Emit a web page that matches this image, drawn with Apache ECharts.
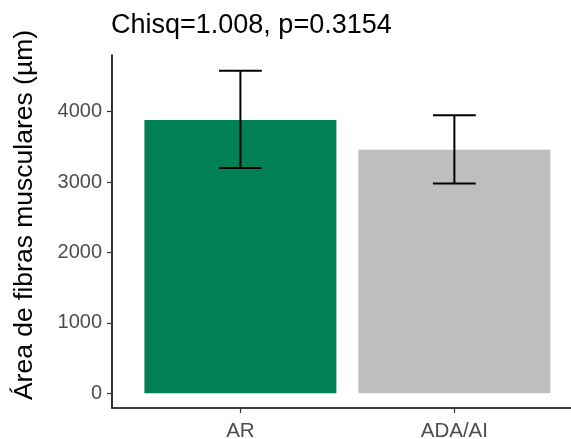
<!DOCTYPE html>
<html>
<head>
<meta charset="utf-8">
<script src="https://cdn.jsdelivr.net/npm/echarts@6/dist/echarts.min.js"></script>
<style>html,body{margin:0;padding:0;background:#fff;}#c{width:571px;height:439px;}</style>
</head>
<body>
<div id="c"></div>
<script>
// ---- data ----
var categories = ['AR', 'ADA/AI'];
var means = [3880, 3460];
var lower = [3200, 2980];
var upper = [4580, 3950];
var yTicks = [0, 1000, 2000, 3000, 4000];
var titleText = 'Chisq=1.008, p=0.3154';
var yTitle = 'Área de fibras musculares (µm)';

var FONT = 'Liberation Sans, Arial, sans-serif';
var colors = ['#008055', '#BEBEBE'];
var xPos = categories.map(function (c, i) { return i + 1; });

var chart = echarts.init(document.getElementById('c'), null, { renderer: 'canvas' });
chart.setOption({
  animation: false,
  backgroundColor: '#ffffff',
  title: {
    text: titleText, left: 111, top: 12, padding: 0,
    textStyle: { fontFamily: FONT, fontSize: 27, fontWeight: 'normal', color: '#000' }
  },
  graphic: [{
    type: 'text', x: 25, y: 215, rotation: Math.PI / 2,
    style: {
      text: yTitle, fontFamily: FONT, fontSize: 26.5, fill: '#000',
      textAlign: 'center', textVerticalAlign: 'middle'
    }
  }],
  grid: { left: 112, right: 0, top: 55, bottom: 31, containLabel: false, outerBoundsMode: 'none' },
  xAxis: {
    type: 'value', min: 0.4, max: 2.545,
    axisLine: { show: true, onZero: false, lineStyle: { color: '#000', width: 1.6 } },
    axisTick: { show: true, customValues: xPos, length: 5, lineStyle: { color: '#333', width: 1.2 } },
    axisLabel: {
      customValues: xPos, margin: 13,
      fontFamily: FONT, fontSize: 20.5, color: '#4D4D4D',
      formatter: function (v) { return categories[Math.round(v) - 1]; }
    },
    splitLine: { show: false }
  },
  yAxis: {
    type: 'value', min: -210, max: 4805,
    axisLine: { show: true, onZero: false, lineStyle: { color: '#000', width: 1.6 } },
    axisTick: { show: true, customValues: yTicks, length: 5, lineStyle: { color: '#333', width: 1.2 } },
    axisLabel: {
      customValues: yTicks, margin: 10, fontFamily: FONT, fontSize: 20, color: '#4D4D4D',
      formatter: function (v) { return String(v); }
    },
    splitLine: { show: false }
  },
  series: [
    {
      type: 'bar',
      barWidth: 192,
      data: means.map(function (m, i) {
        return { value: [xPos[i], m], itemStyle: { color: colors[i] } };
      })
    },
    {
      type: 'custom',
      z: 10,
      data: means.map(function (m, i) { return [xPos[i], lower[i], upper[i]]; }),
      renderItem: function (params, api) {
        var x = api.value(0), lo = api.value(1), hi = api.value(2);
        var pHi = api.coord([x, hi]);
        var pLo = api.coord([x, lo]);
        var hL = api.coord([x - 0.1, hi]), hR = api.coord([x + 0.1, hi]);
        var lL = api.coord([x - 0.1, lo]), lR = api.coord([x + 0.1, lo]);
        var st = { stroke: '#000', lineWidth: 2, fill: null };
        return {
          type: 'group',
          children: [
            { type: 'line', shape: { x1: pHi[0], y1: pHi[1], x2: pLo[0], y2: pLo[1] }, style: st },
            { type: 'line', shape: { x1: hL[0], y1: hL[1], x2: hR[0], y2: hR[1] }, style: st },
            { type: 'line', shape: { x1: lL[0], y1: lL[1], x2: lR[0], y2: lR[1] }, style: st }
          ]
        };
      }
    }
  ]
});
</script>
</body>
</html>
